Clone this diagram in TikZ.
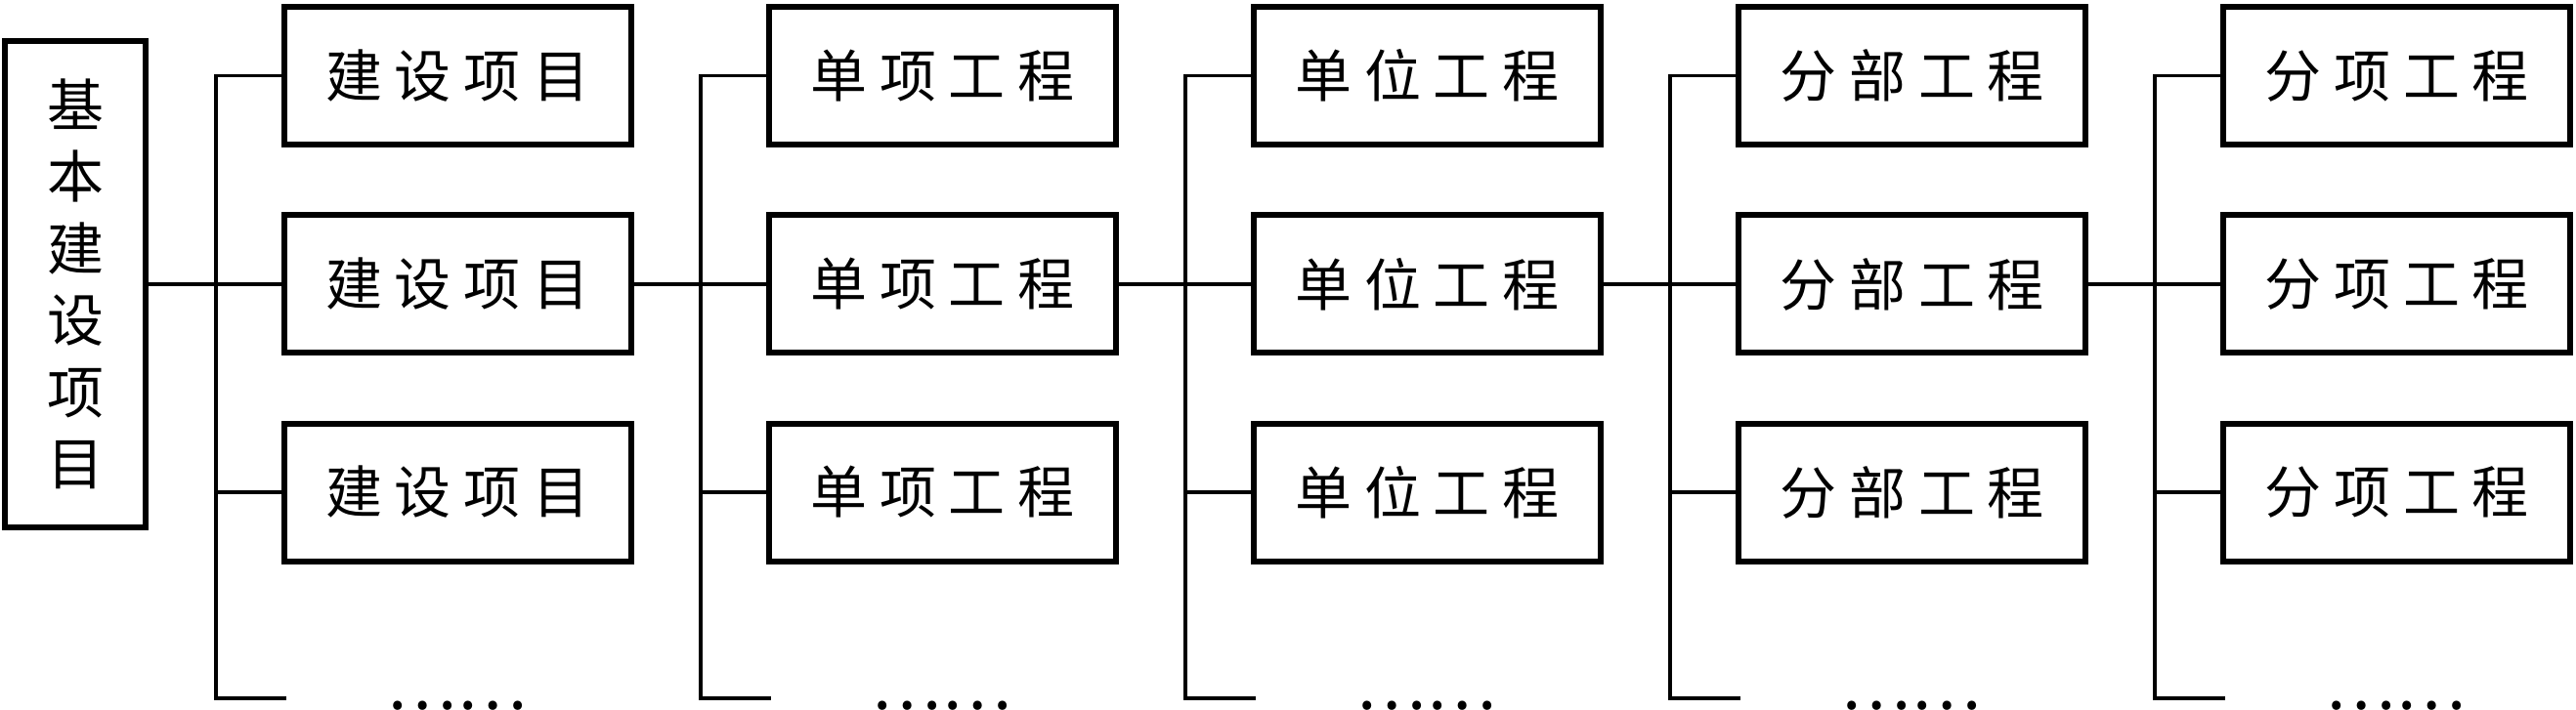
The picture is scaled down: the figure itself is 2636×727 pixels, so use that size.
\documentclass[tikz,border=0pt]{standalone}
\usepackage{fontspec}
\newfontfamily\cjk{Noto Sans CJK SC}
\newcommand\gp{\hspace{6.5pt}}
\newcommand\fourch[4]{#1\gp#2\gp#3\gp#4}
\begin{document}
\begin{tikzpicture}[x=0.5pt,y=-0.5pt,
  box/.style={draw,line width=3pt,minimum width=177.5pt,minimum height=70.5pt,inner sep=0pt,
    font=\cjk\fontsize{29}{36.75}\selectfont},
  link/.style={line width=1.75pt},
  dotsty/.style={inner sep=0pt,anchor=base,font=\cjk\fontsize{34}{40}\selectfont}]
\useasboundingbox (0,0) rectangle (2636,727);
\node[box,minimum width=72pt,minimum height=249pt,align=center] (root) at (77,291)
  {基\\本\\建\\设\\项\\目};
\foreach \i/\a/\b/\c/\d in {1/建/设/项/目, 2/单/项/工/程, 3/单/位/工/程, 4/分/部/工/程, 5/分/项/工/程} {
  \pgfmathsetmacro\L{291+496*(\i-1)}
  \foreach \j/\y in {1/77.5,2/291,3/504} {
    \node[box] (c\i-\j) at (\L+177.5,\y) {\fourch\a\b\c\d};
  }
  \coordinate (t\i top) at (\L-70,77.5);
  \coordinate (t\i bot) at (\L-70,715);
  \coordinate (t\i end) at (\L+2,715);
  \node[dotsty] (d\i) at (\L+176.5,726) {……};
}
\foreach \i in {1,...,5} {
  \draw[link] (c\i-1.west) -- (t\i top) -- (t\i bot) -- (t\i end);
  \draw[link] (t\i top |- c\i-3.west) -- (c\i-3.west);
}
\draw[link] (root.east) -- (c1-2.west);
\foreach \i [evaluate=\i as \p using int(\i-1)] in {2,...,5}
  \draw[link] (c\p-2.east) -- (c\i-2.west);
\end{tikzpicture}
\end{document}
